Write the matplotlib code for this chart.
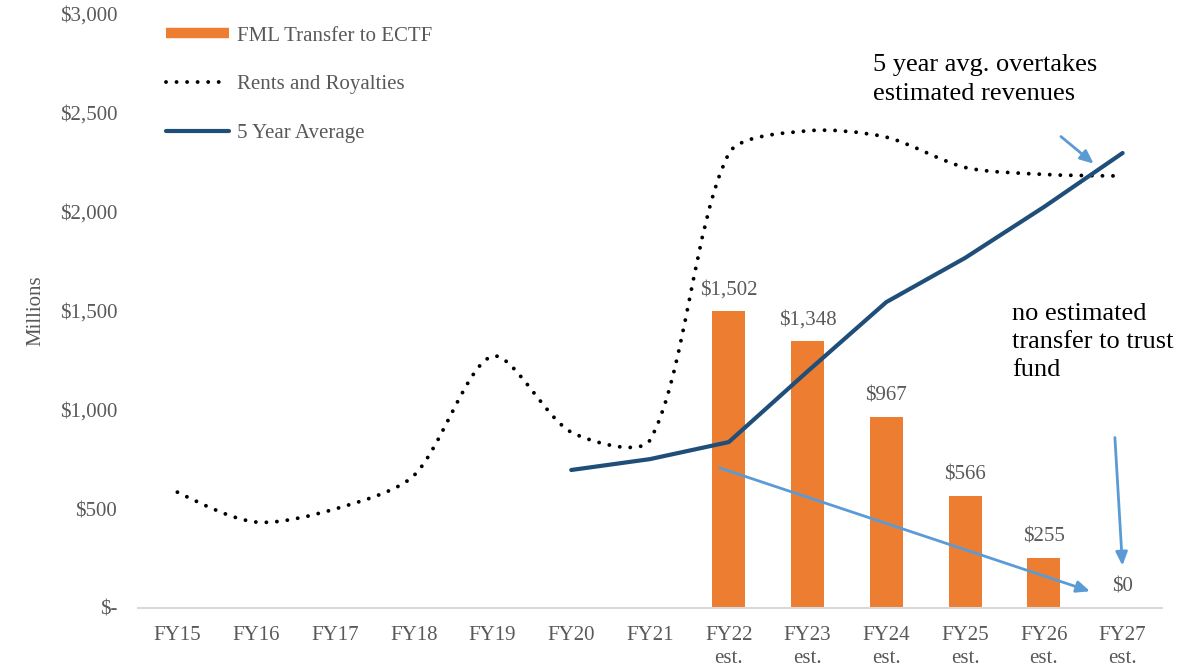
import numpy as np
import matplotlib.pyplot as plt
from matplotlib.path import Path
from matplotlib.patches import PathPatch
from matplotlib.lines import Line2D
from matplotlib.ticker import FuncFormatter

plt.rcParams['font.family'] = ['Liberation Serif', 'DejaVu Serif']

years = ['FY15', 'FY16', 'FY17', 'FY18', 'FY19', 'FY20', 'FY21',
         'FY22\nest.', 'FY23\nest.', 'FY24\nest.', 'FY25\nest.', 'FY26\nest.', 'FY27\nest.']
rents = [585, 434, 500, 668, 1272, 888, 848, 2295, 2410, 2378, 2225, 2190, 2182]
avg_years = [5, 6, 7, 8, 9, 10, 11, 12]
avg5 = [697, 752, 838, 1195, 1545, 1768, 2025, 2298]
bar_years = [7, 8, 9, 10, 11, 12]
transfer = [1502, 1348, 967, 566, 255, 0]

orange = '#ED7D31'
navy = '#1F4E79'
light_blue = '#5B9BD5'
gray = '#595959'

fig = plt.figure(figsize=(12.01, 6.70), dpi=100)
ax = fig.add_axes([138 / 1201, 1 - 608 / 670, (1162 - 138) / 1201, (608 - 14) / 670])
ax.set_xlim(-0.5, 12.5)
ax.set_ylim(0, 3000)

x = np.arange(len(years))

# bars
ax.bar(bar_years, transfer, width=0.42, color=orange, zorder=2)
for xi, v in zip(bar_years, transfer):
    ax.annotate(f'${v:,}', (xi, v), xytext=(0, 15), textcoords='offset points',
                ha='center', va='center', fontsize=15, color=gray)

# smoothed rents line: bezier through the points, tangents weighted by segment length on screen
tension = 1 / 3.6
pts = ax.transData.transform(np.column_stack([x, rents]).astype(float))
n = len(pts)
c_in = pts.copy()
c_out = pts.copy()
for i in range(1, n - 1):
    d = pts[i + 1] - pts[i - 1]
    l_in = np.hypot(*(pts[i] - pts[i - 1]))
    l_out = np.hypot(*(pts[i + 1] - pts[i]))
    c_in[i] = pts[i] - d * tension * l_in / (l_in + l_out)
    c_out[i] = pts[i] + d * tension * l_out / (l_in + l_out)
c_out[0] = pts[0] + (c_in[1] - pts[0]) / 2
c_in[-1] = pts[-1] + (c_out[-2] - pts[-1]) / 2
verts = [pts[0]]
codes = [Path.MOVETO]
for i in range(n - 1):
    verts += [c_out[i], c_in[i + 1], pts[i + 1]]
    codes += [Path.CURVE4] * 3
verts = ax.transData.inverted().transform(np.array(verts))
ax.add_patch(PathPatch(Path(verts, codes), fill=False, edgecolor='black', lw=2.8,
                       linestyle=(0, (0.01, 2.7)), capstyle='round', zorder=3))

# 5 year average
ax.plot(avg_years, avg5, color=navy, lw=3, zorder=4, solid_capstyle='round')

# annotation arrows
arr = dict(arrowstyle='-|>,head_length=0.8,head_width=0.35', color=light_blue, lw=2)
ax.annotate('', xy=(11.62, 80), xytext=(6.85, 712), arrowprops=arr, zorder=5)
ax.annotate('', xy=(12.0, 200), xytext=(11.9, 875), arrowprops=arr, zorder=5)
ax.annotate('', xy=(11.66, 2235), xytext=(11.19, 2390), arrowprops=arr, zorder=5)

ax.text(8.83, 2800, '5 year avg. overtakes\nestimated revenues', fontsize=19,
        va='top', ha='left', linespacing=1.45)
ax.text(10.6, 1540, 'no estimated\ntransfer to trust\nfund', fontsize=19,
        va='top', ha='left', linespacing=1.35)

ax.set_yticks(range(0, 3001, 500))
ax.yaxis.set_major_formatter(FuncFormatter(lambda v, p: '$-' if v == 0 else f'${int(v):,}'))
ax.set_xticks(x)
ax.set_xticklabels(years)
for lab in ax.get_xticklabels():
    lab.set_fontsize(15)
    lab.set_color(gray)
    lab.set_linespacing(1.25)
for lab in ax.get_yticklabels():
    lab.set_fontsize(15)
    lab.set_color(gray)
ax.tick_params(length=0)
ax.tick_params(axis='y', pad=15)
ax.tick_params(axis='x', pad=13)
for s in ['top', 'right', 'left']:
    ax.spines[s].set_visible(False)
ax.spines['bottom'].set_color('#D9D9D9')
ax.spines['bottom'].set_linewidth(1.5)
ax.set_ylabel('Millions', fontsize=15, color=gray, labelpad=10)

handles = [Line2D([], [], color=orange, lw=7.5, solid_capstyle='butt'),
           Line2D([], [], color='black', lw=2.8, linestyle=(0, (0.01, 2.7)), dash_capstyle='round'),
           Line2D([], [], color=navy, lw=3, solid_capstyle='round')]
ax.legend(handles, ['FML Transfer to ECTF', 'Rents and Royalties', '5 Year Average'],
          loc='upper left', bbox_to_anchor=(166 / 1201, 1 - 26 / 670),
          bbox_transform=fig.transFigure, frameon=False, fontsize=15,
          handlelength=3.0, handletextpad=0.4, labelspacing=1.4,
          borderpad=0, borderaxespad=0, labelcolor=gray)

fig.savefig('out.png', dpi=100)
